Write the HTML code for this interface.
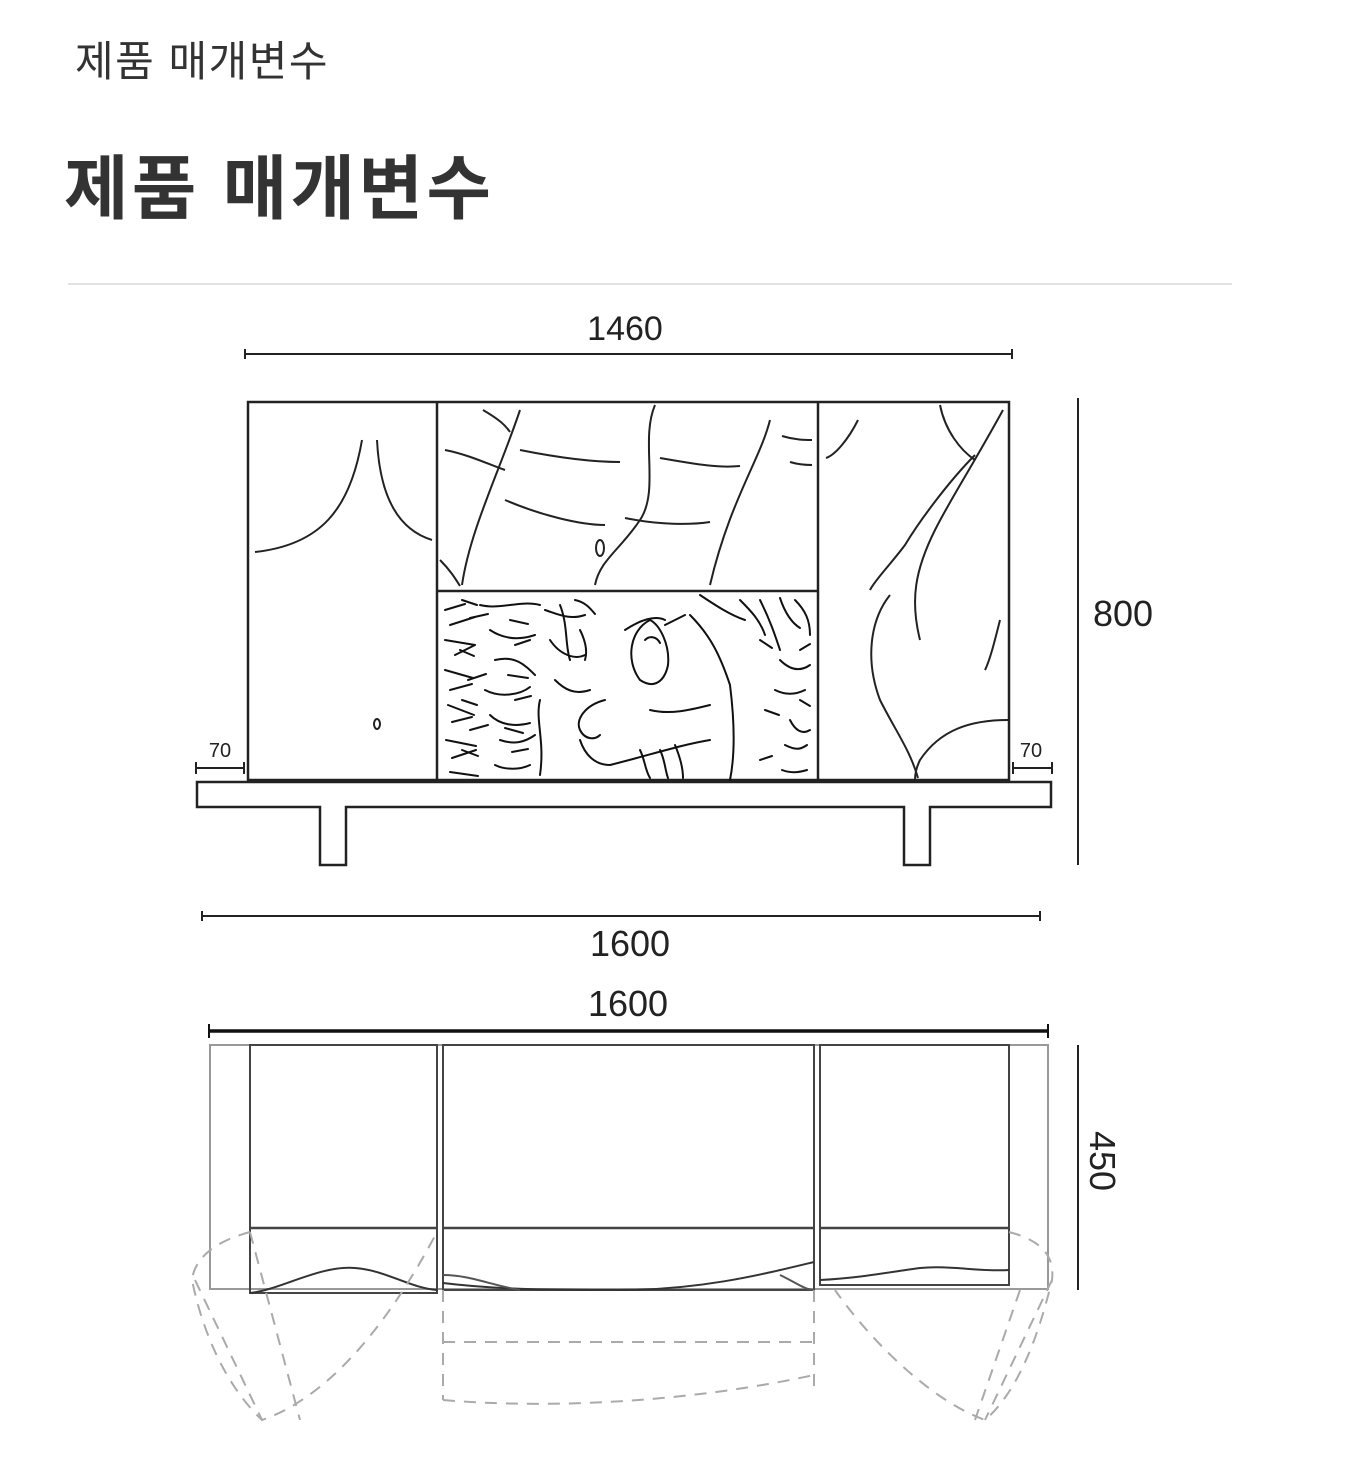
<!DOCTYPE html>
<html><head><meta charset="utf-8"><style>
html,body{margin:0;padding:0;background:#fff}
svg{display:block}
text{font-family:"Liberation Sans","Noto Sans CJK KR",sans-serif}
</style></head><body>
<svg width="1365" height="1463" viewBox="0 0 1365 1463" xmlns="http://www.w3.org/2000/svg">
<text x="75" y="76" font-size="42" letter-spacing="1.5" fill="#333" font-family="'Liberation Sans','Noto Sans CJK KR',sans-serif">제품 매개변수</text>
<text x="64" y="213" font-size="70" letter-spacing="3.5" font-weight="bold" fill="#333" font-family="'Liberation Sans','Noto Sans CJK KR',sans-serif">제품 매개변수</text>
<line x1="68" y1="284" x2="1232" y2="284" stroke="#e2e2e2" stroke-width="2"/>

<g stroke="#222" fill="none" stroke-width="2">
<line x1="245" y1="354" x2="1012" y2="354"/>
<line x1="245" y1="349" x2="245" y2="359"/><line x1="1012" y1="349" x2="1012" y2="359"/>
<rect x="248" y="402" width="761" height="378" stroke-width="2.5"/>
<line x1="437" y1="402" x2="437" y2="780" stroke-width="2.5"/>
<line x1="818" y1="402" x2="818" y2="780" stroke-width="2.5"/>
<line x1="437" y1="591" x2="818" y2="591" stroke-width="2.5"/>
<path d="M197 782 H1051 V807 H930 V865 H904 V807 H346 V865 H320 V807 H197 Z" stroke-width="2.5"/>
<line x1="196" y1="768" x2="244" y2="768"/><line x1="196" y1="762" x2="196" y2="774"/><line x1="244" y1="762" x2="244" y2="774"/>
<line x1="1013" y1="768" x2="1052" y2="768"/><line x1="1013" y1="762" x2="1013" y2="774"/><line x1="1052" y1="762" x2="1052" y2="774"/>
<line x1="1078" y1="398" x2="1078" y2="865"/>
<line x1="202" y1="916" x2="1040" y2="916"/>
<line x1="202" y1="911" x2="202" y2="921"/><line x1="1040" y1="911" x2="1040" y2="921"/>

<path d="M255 552 C320 545 350 510 362 440"/>
<path d="M377 440 C380 500 400 530 432 540"/>
<ellipse cx="377" cy="724" rx="3" ry="5"/>
<path d="M445 450 C470 455 490 465 505 470"/><path d="M520 450 C570 460 600 462 620 462"/>
<path d="M483 410 C500 420 505 425 510 432"/>
<path d="M520 410 C500 470 470 530 462 585"/>
<path d="M655 405 C640 440 660 490 640 520 C620 550 600 560 595 585"/>
<path d="M660 458 C700 465 720 468 740 466"/>
<path d="M770 420 C760 460 730 500 710 585"/>
<path d="M782 436 C795 440 805 440 812 440"/><path d="M790 462 C800 465 808 465 812 465"/>
<path d="M505 500 C540 515 580 525 605 525"/><path d="M625 518 C660 525 690 525 710 522"/>
<ellipse cx="600" cy="548" rx="4" ry="8"/>
<path d="M440 560 C450 570 455 578 460 586"/>
<path d="M858 420 C848 440 835 455 826 458"/>
<path d="M940 405 C945 430 960 450 975 460"/>
<path d="M1003 410 C970 470 950 500 935 530 C915 570 910 600 920 640"/>
<path d="M975 455 C950 480 920 520 905 545 C890 565 875 580 870 590"/>
<path d="M890 595 C870 620 865 660 880 700 C895 730 910 750 918 778"/>
<path d="M1000 620 C995 640 990 660 985 670"/>
<path d="M1008 720 C970 720 940 730 920 760 C915 770 915 778 915 780"/>
</g>
<g stroke="#111" fill="none" stroke-width="2" stroke-linecap="round">
<path d="M445 610 l20 -6 M450 625 l25 -8 M445 640 l30 5 M455 655 l20 -10 M445 670 l28 8 M450 690 l22 -6 M448 705 l26 10 M452 722 l20 -5 M446 740 l30 6 M452 758 l24 -8 M450 772 l28 4"/>
<path d="M480 605 c20 5 40 -5 60 0 M490 630 c15 10 30 10 45 5 M495 660 c20 -5 30 5 40 15 M485 690 c15 8 35 5 45 -3 M490 715 c10 10 25 12 40 8 M500 740 c15 5 25 2 35 -5 M495 765 c10 5 25 5 35 0"/>
<path d="M462 600 l15 5 M470 618 l18 -4 M460 650 l14 6 M468 680 l18 -6 M462 700 l15 5 M470 730 l18 -5 M462 750 l16 6"/>
<path d="M510 620 l18 4 M515 645 l15 -5 M508 675 l20 3 M515 700 l16 -4 M505 728 l18 5 M512 752 l16 -3"/>
<path d="M545 610 c15 5 25 10 40 5 M550 640 c10 15 25 20 35 15 M560 605 c8 20 5 40 10 55 M555 680 c10 10 20 15 35 10 M540 700 c-5 20 5 40 0 75"/>
<path d="M575 600 c10 2 15 8 20 14 M580 630 c5 10 8 20 5 30"/>
<path d="M650 620 c-20 10 -25 40 -10 60 c15 10 25 0 28 -15 c2 -20 -8 -40 -18 -45 z"/>
<path d="M645 640 c5 -5 12 -3 15 3"/>
<path d="M625 630 c15 -10 30 -15 40 -10 M665 625 l20 -10"/>
<path d="M605 700 c-20 5 -30 20 -25 30 c5 10 15 10 20 5 M580 740 c5 15 15 25 30 25 c40 -10 70 -20 100 -25"/>
<path d="M690 615 c20 20 30 40 40 70 c5 40 5 70 0 95"/>
<path d="M700 595 c15 10 30 20 45 25 M740 600 c10 10 20 20 25 35 M760 600 c10 20 15 35 20 50 M780 598 c5 15 12 25 20 30 M795 600 c10 10 15 20 15 35"/>
<path d="M780 660 c10 10 20 12 30 5 M775 690 c10 5 20 5 30 0 M790 720 c5 10 12 15 20 10 M785 745 c10 5 15 5 22 0 M782 770 c8 3 15 3 25 0"/>
<path d="M760 640 l12 8 M800 650 l10 -6 M765 710 l14 5 M800 700 l10 6 M760 760 l12 -4"/>
<path d="M650 710 c20 5 40 0 60 -5 M640 750 c5 10 5 20 10 28 M660 750 c5 10 5 20 8 28 M675 745 c5 12 8 22 8 33"/>
</g>

<g stroke="#444" fill="none" stroke-width="2">
<line x1="209" y1="1031" x2="1048" y2="1031" stroke="#111" stroke-width="3.5"/>
<line x1="209" y1="1024" x2="209" y2="1038" stroke="#111" stroke-width="2"/>
<line x1="1048" y1="1024" x2="1048" y2="1038" stroke="#111" stroke-width="2"/>
<rect x="210" y="1045" width="838" height="244" stroke="#999"/>
<rect x="250" y="1045" width="187" height="248"/>
<rect x="443" y="1045" width="371" height="245"/>
<rect x="820" y="1045" width="189" height="240"/>
<line x1="250" y1="1228" x2="437" y2="1228" stroke-width="2.5"/>
<line x1="443" y1="1228" x2="814" y2="1228" stroke-width="2.5"/>
<line x1="820" y1="1228" x2="1009" y2="1228" stroke-width="2.5"/>
<path d="M250 1293 C280 1290 320 1265 355 1268 C385 1270 410 1288 437 1290" stroke="#333"/>
<path d="M443 1283 C500 1290 560 1290 620 1290 C700 1290 760 1275 814 1262" stroke="#333"/>
<path d="M443 1275 C470 1275 490 1285 520 1290 M780 1275 C795 1282 805 1290 814 1290" stroke="#555"/>
<path d="M820 1280 C860 1278 890 1272 920 1268 C950 1265 980 1272 1009 1270" stroke="#333"/>
<line x1="1078" y1="1045" x2="1078" y2="1290" stroke="#222"/>
</g>
<g stroke="#aaa" fill="none" stroke-width="2" stroke-dasharray="12 9">
<path d="M250 1232 C220 1240 195 1255 192 1280 C200 1320 220 1380 262 1420 C320 1400 380 1340 437 1232"/>
<path d="M195 1280 L262 1420 M250 1232 L300 1420"/>
<path d="M443 1290 V1400 M814 1290 V1390"/>
<path d="M443 1342 H814"/>
<path d="M443 1400 C560 1410 700 1400 814 1375"/>
<path d="M1009 1232 C1040 1240 1055 1255 1052 1280 C1040 1330 1020 1390 985 1420 C930 1400 870 1340 835 1290"/>
<path d="M1052 1280 L985 1420 M1020 1290 L975 1420"/>
</g>

<g fill="#222">
<text x="625" y="340" font-size="34" text-anchor="middle">1460</text>
<text x="220" y="757" font-size="20" text-anchor="middle">70</text>
<text x="1031" y="757" font-size="20" text-anchor="middle">70</text>
<text x="1093" y="626" font-size="36">800</text>
<text x="630" y="956" font-size="36" text-anchor="middle">1600</text>
<text x="628" y="1016" font-size="36" text-anchor="middle">1600</text>
<text x="0" y="0" font-size="36" text-anchor="middle" transform="translate(1090 1161) rotate(90)">450</text>
</g>
</svg>
</body></html>
